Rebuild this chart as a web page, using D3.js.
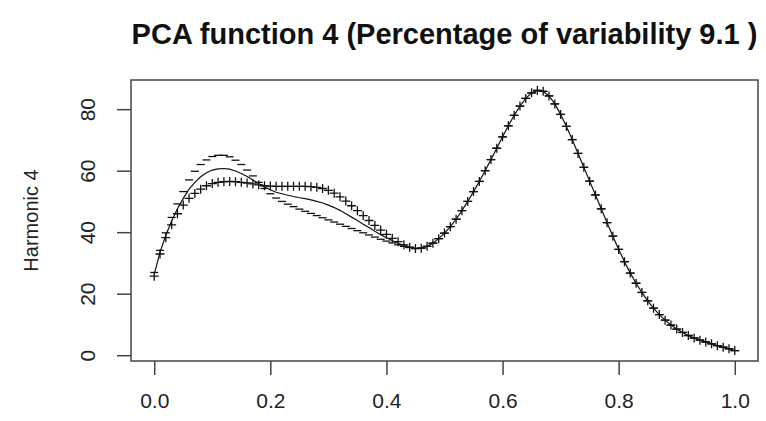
<!DOCTYPE html>
<html>
<head>
<meta charset="utf-8">
<script src="https://cdn.jsdelivr.net/npm/d3@7"></script>
<style>
  html, body { margin: 0; padding: 0; background: #fff; }
  svg { display: block; }
</style>
</head>
<body>
<script>
// Evaluation grid on [0, 1]
const argvals = [
  0.00,0.01,0.02,0.03,0.04,0.05,0.06,0.07,0.08,0.09,
  0.10,0.11,0.12,0.13,0.14,0.15,0.16,0.17,0.18,0.19,
  0.20,0.21,0.22,0.23,0.24,0.25,0.26,0.27,0.28,0.29,
  0.30,0.31,0.32,0.33,0.34,0.35,0.36,0.37,0.38,0.39,
  0.40,0.41,0.42,0.43,0.44,0.45,0.46,0.47,0.48,0.49,
  0.50,0.51,0.52,0.53,0.54,0.55,0.56,0.57,0.58,0.59,
  0.60,0.61,0.62,0.63,0.64,0.65,0.66,0.67,0.68,0.69,
  0.70,0.71,0.72,0.73,0.74,0.75,0.76,0.77,0.78,0.79,
  0.80,0.81,0.82,0.83,0.84,0.85,0.86,0.87,0.88,0.89,
  0.90,0.91,0.92,0.93,0.94,0.95,0.96,0.97,0.98,0.99,
  1.00
];

// Mean function
const meanValues = [
  26.3,33.5,39.0,43.6,47.6,51.0,54.0,56.2,58.0,59.3,
  60.2,60.6,60.7,60.5,59.9,59.1,58.1,57.0,55.8,54.7,
  53.8,53.0,52.5,52.0,51.6,51.2,50.9,50.5,50.0,49.5,
  48.8,48.0,47.1,46.0,44.9,43.8,42.6,41.5,40.3,39.2,
  38.2,37.3,36.4,35.7,35.1,34.7,34.8,35.4,36.4,37.9,
  39.7,41.8,44.2,47.0,50.0,53.2,56.5,60.0,63.6,67.3,
  71.0,74.6,78.0,81.0,83.5,85.3,86.1,85.8,84.3,81.7,
  78.3,74.4,70.1,65.6,61.1,56.6,52.1,47.6,43.1,38.7,
  34.4,30.4,26.7,23.4,20.4,17.7,15.3,13.2,11.4,9.8,
  8.5,7.4,6.4,5.6,4.9,4.3,3.7,3.1,2.6,2.1,
  1.5
];

// Mean plus the scaled fourth harmonic
const plusValues = [
  25.7,32.9,38.2,42.4,46.0,48.8,51.0,52.6,54.0,55.1,
  55.8,56.2,56.4,56.5,56.4,56.2,56.0,55.7,55.4,55.1,
  55.0,54.9,54.9,54.9,54.9,54.9,54.9,54.8,54.6,54.2,
  53.6,52.7,51.5,50.1,48.6,47.0,45.4,43.8,42.2,40.7,
  39.3,38.0,36.9,35.9,35.1,34.7,34.8,35.4,36.4,37.9,
  39.7,41.8,44.2,47.0,50.0,53.2,56.5,60.0,63.6,67.3,
  71.0,74.6,78.0,81.0,83.5,85.3,86.1,85.8,84.3,81.7,
  78.3,74.4,70.1,65.6,61.1,56.6,52.1,47.6,43.1,38.7,
  34.4,30.4,26.7,23.4,20.4,17.7,15.3,13.2,11.4,9.8,
  8.5,7.4,6.4,5.6,4.9,4.3,3.7,3.1,2.6,2.1,
  1.5
];

// Mean minus the scaled fourth harmonic
const minusValues = [
  26.9,34.1,39.8,44.8,49.2,53.2,57.0,59.8,62.0,63.5,
  64.6,65.0,65.0,64.5,63.4,62.0,60.2,58.3,56.2,54.2,
  52.5,51.1,50.0,49.1,48.3,47.5,46.8,46.1,45.4,44.7,
  44.0,43.3,42.6,41.9,41.2,40.5,39.8,39.1,38.4,37.7,
  37.1,36.5,35.9,35.4,35.0,34.7,34.8,35.4,36.4,37.9,
  39.7,41.8,44.2,47.0,50.0,53.2,56.5,60.0,63.6,67.3,
  71.0,74.6,78.0,81.0,83.5,85.3,86.1,85.8,84.3,81.7,
  78.3,74.4,70.1,65.6,61.1,56.6,52.1,47.6,43.1,38.7,
  34.4,30.4,26.7,23.4,20.4,17.7,15.3,13.2,11.4,9.8,
  8.5,7.4,6.4,5.6,4.9,4.3,3.7,3.1,2.6,2.1,
  1.5
];

const xTicks = [0.0, 0.2, 0.4, 0.6, 0.8, 1.0];
const yTicks = [0, 20, 40, 60, 80];

const titleText = "PCA function 4 (Percentage of variability 9.1 )";
const yLabel = "Harmonic 4";

// ---- layout ----
const W = 766, H = 421;
const box = { left: 131, right: 758, top: 80, bottom: 361 };
const font = "'Liberation Sans', Arial, Helvetica, sans-serif";

const svg = d3.select("body").append("svg")
  .attr("width", W).attr("height", H)
  .attr("viewBox", `0 0 ${W} ${H}`);

svg.append("rect").attr("width", W).attr("height", H).attr("fill", "#fff");

// R-style 4% padding around the data range
function padded(extent) {
  const r = extent[1] - extent[0];
  return [extent[0] - 0.04 * r, extent[1] + 0.04 * r];
}
const xExt = d3.extent(argvals);
const yExt = d3.extent([...meanValues, ...plusValues, ...minusValues]);

const x = d3.scaleLinear().domain(padded(xExt)).range([box.left, box.right]);
const y = d3.scaleLinear().domain(padded(yExt)).range([box.bottom, box.top]);

// ---- curves ----
const plot = svg.append("g");

const line = d3.line()
  .x((d, i) => x(argvals[i]))
  .y(d => y(d));

plot.append("path")
  .datum(meanValues)
  .attr("d", line)
  .attr("fill", "none")
  .attr("stroke", "#111")
  .attr("stroke-width", 1.2);

// "-" markers
plot.append("g").selectAll("path")
  .data(minusValues)
  .join("path")
  .attr("transform", (d, i) => `translate(${x(argvals[i])},${y(d)})`)
  .attr("d", "M-4,0H4")
  .attr("stroke", "#111")
  .attr("stroke-width", 1.3);

// "+" markers
plot.append("g").selectAll("path")
  .data(plusValues)
  .join("path")
  .attr("transform", (d, i) => `translate(${x(argvals[i])},${y(d)})`)
  .attr("d", "M-4.5,0H4.5M0,-4.5V4.5")
  .attr("stroke", "#111")
  .attr("stroke-width", 1.3);

// ---- box ----
svg.append("rect")
  .attr("x", box.left).attr("y", box.top)
  .attr("width", box.right - box.left).attr("height", box.bottom - box.top)
  .attr("fill", "none").attr("stroke", "#444").attr("stroke-width", 1.5);

// ---- axes ----
const xAxis = d3.axisBottom(x)
  .tickValues(xTicks)
  .tickFormat(d3.format(".1f"))
  .tickSize(14).tickPadding(18);

const gx = svg.append("g")
  .attr("transform", `translate(0,${box.bottom})`)
  .call(xAxis);

const yAxis = d3.axisLeft(y)
  .tickValues(yTicks)
  .tickFormat(d3.format("d"))
  .tickSize(14).tickPadding(10);

const gy = svg.append("g")
  .attr("transform", `translate(${box.left},0)`)
  .call(yAxis);

[gx, gy].forEach(g => {
  g.select(".domain").remove();
  g.selectAll(".tick line").attr("stroke", "#444").attr("stroke-width", 1.5);
  g.selectAll(".tick text")
    .attr("fill", "#222")
    .style("font-family", font)
    .style("font-size", "21px");
});

// y tick labels run parallel to the axis
gy.selectAll(".tick text")
  .attr("text-anchor", "middle")
  .attr("dy", null)
  .attr("x", null)
  .attr("transform", "translate(-44,0) rotate(-90)")
  .attr("dominant-baseline", "central");

// ---- labels ----
const yLabelX = 31, yLabelY = (box.top + box.bottom) / 2;
svg.append("text")
  .attr("x", yLabelX).attr("y", yLabelY)
  .attr("transform", `rotate(-90, ${yLabelX}, ${yLabelY})`)
  .attr("text-anchor", "middle")
  .attr("dominant-baseline", "central")
  .attr("fill", "#222")
  .style("font-family", font)
  .style("font-size", "20px")
  .text(yLabel);

svg.append("text")
  .attr("x", (box.left + box.right) / 2).attr("y", 44)
  .attr("text-anchor", "middle")
  .attr("fill", "#111")
  .style("font-family", font)
  .style("font-size", "29px")
  .style("font-weight", "bold")
  .text(titleText);
</script>
</body>
</html>
